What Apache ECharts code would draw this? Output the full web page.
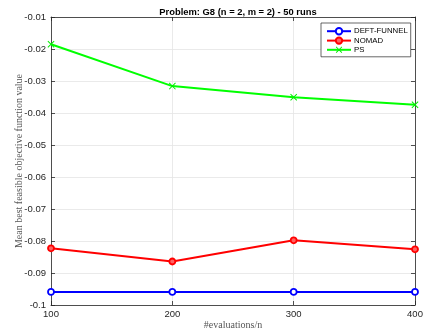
<!DOCTYPE html>
<html>
<head>
<meta charset="utf-8">
<script src="https://cdn.jsdelivr.net/npm/echarts@6/dist/echarts.min.js"></script>
<style>
  html, body { margin: 0; padding: 0; background: #fff; }
  #chart { width: 426px; height: 334px; }
</style>
</head>
<body>
<div id="chart"></div>
<script>
// Evaluation budgets (#evaluations / n)
const budgets = [100, 200, 300, 400];

// Mean best feasible objective value per solver
const deftFunnel = [-0.0959, -0.0959, -0.0959, -0.0959];
const nomad = [-0.0823, -0.0864, -0.0798, -0.0826];
const ps = [-0.0185, -0.0316, -0.0351, -0.0374];

// Axis tick values
const yTicks = [-0.1, -0.09, -0.08, -0.07, -0.06, -0.05, -0.04, -0.03, -0.02, -0.01];
const xTicks = [100, 200, 300, 400];

const axisColor = '#262626';
const gridColor = '#e5e5e5';
const sansFont = '"Liberation Sans", Arial, sans-serif';
const serifFont = '"Liberation Serif", "DejaVu Serif", serif';

// Thin cross marker
const crossSymbol = 'path://M0,1 L1,0 L5,4 L9,0 L10,1 L6,5 L10,9 L9,10 L5,6 L1,10 L0,9 L4,5 Z';

function pairs(vals) {
  return budgets.map((b, i) => [b, vals[i]]);
}

const chart = echarts.init(document.getElementById('chart'), null, { renderer: 'canvas' });

const tickCommon = { show: true, inside: true, length: 4, lineStyle: { color: axisColor, width: 0.8 } };

chart.setOption({
  animation: false,
  backgroundColor: '#fff',
  title: {
    text: 'Problem: G8 (n = 2, m = 2) - 50 runs',
    left: 233, top: 3, textAlign: 'center',
    textStyle: { fontFamily: sansFont, fontSize: 9.4, fontWeight: 'bold', color: '#000' }
  },
  legend: {
    orient: 'vertical',
    left: 321, top: 23,
    padding: [4, 3, 3, 5],
    itemGap: 1,
    itemWidth: 24, itemHeight: 8,
    backgroundColor: '#fff',
    borderColor: axisColor, borderWidth: 0.7,
    textStyle: { fontFamily: sansFont, fontSize: 7.8, color: '#000', padding: [0, 0, 0, -2] },
    data: ['DEFT-FUNNEL', 'NOMAD', 'PS']
  },
  grid: { left: 51, right: 11, top: 17, bottom: 29, containLabel: false, outerBoundsMode: 'none' },
  xAxis: [{
    type: 'value', min: 100, max: 400, interval: 100,
    name: '#evaluations/n', nameLocation: 'middle', nameGap: 15, nameMoveOverlap: false,
    nameTextStyle: { fontFamily: serifFont, fontSize: 10, color: '#555' },
    axisLine: { show: true, onZero: false, lineStyle: { color: axisColor, width: 0.8 } },
    axisTick: tickCommon,
    axisLabel: { fontFamily: sansFont, fontSize: 9.5, color: axisColor, margin: 4,
      formatter: v => xTicks.includes(v) ? String(v) : '' },
    splitLine: { show: true, lineStyle: { color: gridColor, width: 0.8 } }
  }, {
    type: 'value', min: 100, max: 400, interval: 100, position: 'top',
    axisLine: { show: true, onZero: false, lineStyle: { color: axisColor, width: 0.8 } },
    axisTick: tickCommon, axisLabel: { show: false }, splitLine: { show: false }
  }],
  yAxis: [{
    type: 'value', min: -0.1, max: -0.01, interval: 0.01,
    name: 'Mean best feasible objective function value', nameLocation: 'middle', nameGap: 27,
    nameMoveOverlap: false,
    nameTextStyle: { fontFamily: serifFont, fontSize: 10, color: '#555' },
    axisLine: { show: true, onZero: false, lineStyle: { color: axisColor, width: 0.8 } },
    axisTick: tickCommon,
    axisLabel: { fontFamily: sansFont, fontSize: 9.5, color: axisColor, margin: 5,
      formatter: v => {
        const r = Number(v.toFixed(2));
        return yTicks.some(t => Math.abs(t - r) < 1e-9) ? String(r) : '';
      } },
    splitLine: { show: true, lineStyle: { color: gridColor, width: 0.8 } }
  }, {
    type: 'value', min: -0.1, max: -0.01, interval: 0.01, position: 'right',
    axisLine: { show: true, onZero: false, lineStyle: { color: axisColor, width: 0.8 } },
    axisTick: tickCommon, axisLabel: { show: false }, splitLine: { show: false }
  }],
  series: [{
    name: 'DEFT-FUNNEL', type: 'line', data: pairs(deftFunnel),
    symbol: 'circle', symbolSize: 6, showAllSymbol: true,
    lineStyle: { color: '#0000ff', width: 2 },
    itemStyle: { color: '#fff', borderColor: '#0000ff', borderWidth: 1.8 },
    emphasis: { disabled: true }
  }, {
    name: 'NOMAD', type: 'line', data: pairs(nomad),
    symbol: 'circle', symbolSize: 6, showAllSymbol: true,
    lineStyle: { color: '#ff0000', width: 2 },
    itemStyle: { color: '#ff6060', borderColor: '#ff0000', borderWidth: 1.8 },
    emphasis: { disabled: true }
  }, {
    name: 'PS', type: 'line', data: pairs(ps),
    symbol: crossSymbol, symbolSize: 7, showAllSymbol: true,
    lineStyle: { color: '#00ff00', width: 2 },
    itemStyle: { color: '#00ee00' },
    emphasis: { disabled: true }
  }]
});
</script>
</body>
</html>
